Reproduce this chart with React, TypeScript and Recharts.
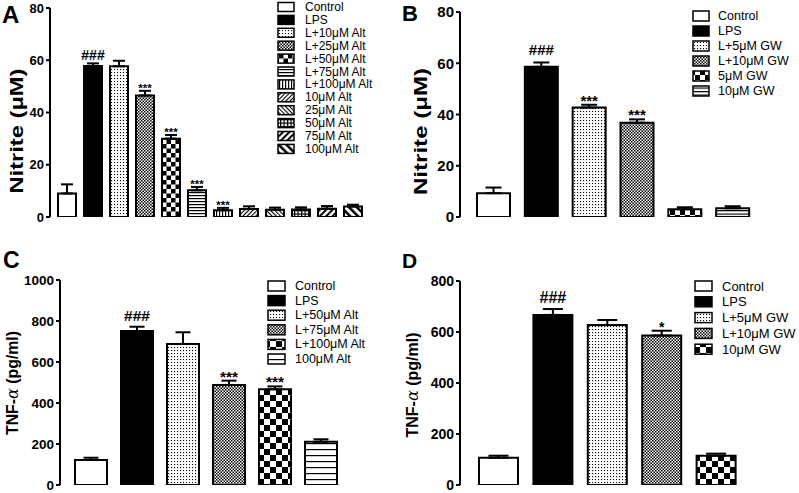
import React from 'react'
import { BarChart, Bar, XAxis, YAxis, Cell, ErrorBar, LabelList } from 'recharts'

const FONT = '"Liberation Sans", Arial, Helvetica, sans-serif'

// fill order shared by all four panels (GraphPad default patterns)
const patternOrder = ['white', 'black', 'dots', 'fine', 'checker', 'hlines', 'vlines', 'diagA', 'diagB', 'grid', 'diagC', 'diagD']

// A: nitrite, alantolactone
const altNitriteGroups = ['Control', 'LPS', 'L+10μM Alt', 'L+25μM Alt', 'L+50μM Alt', 'L+75μM Alt', 'L+100μM Alt', '10μM Alt', '25μM Alt', '50μM Alt', '75μM Alt', '100μM Alt']
const altNitriteMean = [9.0, 57.8, 57.7, 46.5, 30.0, 10.2, 2.6, 3.1, 2.8, 2.9, 3.2, 4.0]
const altNitriteSem = [3.5, 1.0, 2.1, 1.8, 1.4, 1.3, 0.9, 1.0, 0.8, 0.8, 1.0, 0.7]
const altNitriteSig = ['', '###', '', '***', '***', '***', '***', '', '', '', '', '']

// B: nitrite, GW
const gwNitriteGroups = ['Control', 'LPS', 'L+5μM GW', 'L+10μM GW', '5μM GW', '10μM GW']
const gwNitriteMean = [9.3, 58.6, 42.7, 36.8, 3.0, 3.4]
const gwNitriteSem = [2.2, 1.7, 1.1, 1.3, 0.8, 0.8]
const gwNitriteSig = ['', '###', '***', '***', '', '']

// C: TNF-a, alantolactone
const altTnfGroups = ['Control', 'LPS', 'L+50μM Alt', 'L+75μM Alt', 'L+100μM Alt', '100μM Alt']
const altTnfMean = [122, 751, 688, 488, 467, 211]
const altTnfSem = [11, 21, 57, 21, 14, 12]
const altTnfSig = ['', '###', '', '***', '***', '']

// D: TNF-a, GW
const gwTnfGroups = ['Control', 'LPS', 'L+5μM GW', 'L+10μM GW', '10μM GW']
const gwTnfMean = [107, 667, 627, 586, 115]
const gwTnfSem = [8, 23, 20, 19, 8]
const gwTnfSig = ['', '###', '', '*', '']

const nitriteTicks = [0, 20, 40, 60, 80]
const altTnfTicks = [0, 200, 400, 600, 800, 1000]
const gwTnfTicks = [0, 200, 400, 600, 800]

function Patterns({ id, checker, stripe }: { id: string; checker: number; stripe: number }) {
  const c2 = checker * 2
  return (
    <defs>
      <pattern id={`${id}-dots`} width={3} height={3} patternUnits="userSpaceOnUse">
        <rect width={3} height={3} fill="#fff" />
        <rect width={1.1} height={1.1} fill="#000" />
      </pattern>
      <pattern id={`${id}-fine`} width={3} height={3} patternUnits="userSpaceOnUse">
        <rect width={3} height={3} fill="#fff" />
        <rect width={1.5} height={1.5} fill="#000" />
        <rect x={1.5} y={1.5} width={1.5} height={1.5} fill="#000" />
      </pattern>
      <pattern id={`${id}-checker`} width={c2} height={c2} patternUnits="userSpaceOnUse">
        <rect width={c2} height={c2} fill="#fff" />
        <rect width={checker} height={checker} fill="#000" />
        <rect x={checker} y={checker} width={checker} height={checker} fill="#000" />
      </pattern>
      <pattern id={`${id}-hlines`} width={4} height={stripe} patternUnits="userSpaceOnUse">
        <rect width={4} height={stripe} fill="#fff" />
        <rect width={4} height={1.2} fill="#000" />
      </pattern>
      <pattern id={`${id}-vlines`} width={3} height={4} patternUnits="userSpaceOnUse">
        <rect width={3} height={4} fill="#fff" />
        <rect width={1.2} height={4} fill="#000" />
      </pattern>
      <pattern id={`${id}-grid`} width={3.5} height={3.5} patternUnits="userSpaceOnUse">
        <rect width={3.5} height={3.5} fill="#fff" />
        <rect width={3.5} height={1.2} fill="#000" />
        <rect width={1.2} height={3.5} fill="#000" />
      </pattern>
      <pattern id={`${id}-diagA`} width={3} height={3} patternUnits="userSpaceOnUse" patternTransform="rotate(45)">
        <rect width={3} height={3} fill="#fff" />
        <rect width={1.1} height={3} fill="#000" />
      </pattern>
      <pattern id={`${id}-diagB`} width={3} height={3} patternUnits="userSpaceOnUse" patternTransform="rotate(-45)">
        <rect width={3} height={3} fill="#fff" />
        <rect width={1.1} height={3} fill="#000" />
      </pattern>
      <pattern id={`${id}-diagC`} width={4.5} height={4} patternUnits="userSpaceOnUse" patternTransform="rotate(45)">
        <rect width={4.5} height={4} fill="#fff" />
        <rect width={2} height={4} fill="#000" />
      </pattern>
      <pattern id={`${id}-diagD`} width={5.5} height={4} patternUnits="userSpaceOnUse" patternTransform="rotate(-45)">
        <rect width={5.5} height={4} fill="#fff" />
        <rect width={2.5} height={4} fill="#000" />
      </pattern>
    </defs>
  )
}

const fillFor = (id: string, p: string) => (p === 'white' ? '#fff' : p === 'black' ? '#000' : `url(#${id}-${p})`)

type PanelProps = {
  id: string
  letter: string
  left: number
  top: number
  width: number
  height: number
  margin: { top: number; right: number; bottom: number; left: number }
  yWidth: number
  pad: { left: number; right: number }
  barSize: number
  capHalf: number
  groups: string[]
  mean: number[]
  sem: number[]
  sig: string[]
  ticks: number[]
  tickSize: number
  yTitle: React.ReactNode
  titleX: number
  titleShift: number
  titleSize: number
  titleLen: number
  letterX: number
  letterY: number
  letterSize: number
  legend: { x: number; y: number; row: number; w: number; h: number; textX: number; size: number }
  hashGap: number
  hashSize: number
  starSize: number
  checker: number
  stripe: number
}

function Panel(p: PanelProps) {
  const rows = p.groups.map((name, i) => ({ name, mean: p.mean[i], err: [0, p.sem[i]], sig: p.sig[i] }))

  // significance marks sit just above the error bar
  const sigLabel = (props: any) => {
    const { x, y, width, height, value, index } = props
    if (!value) return null
    const perUnit = height / p.mean[index]
    const top = y - p.sem[index] * perUnit
    const isHash = String(value).startsWith('#')
    return (
      <text
        x={x + width / 2}
        y={isHash ? top - p.hashGap : top + 1}
        textAnchor="middle"
        fontFamily={FONT}
        fontWeight="bold"
        fontSize={isHash ? p.hashSize : p.starSize}
        fill="#000"
      >
        {value}
      </text>
    )
  }

  const titleContent = (props: any) => {
    const vb = props.viewBox
    const cx = vb.x + p.titleX
    const cy = vb.y + vb.height / 2 + p.titleShift
    return (
      <text
        x={cx}
        y={cy}
        transform={`rotate(-90, ${cx}, ${cy})`}
        textAnchor="middle"
        dominantBaseline="central"
        fontFamily={FONT}
        fontWeight="bold"
        fontSize={p.titleSize}
        textLength={p.titleLen}
        lengthAdjust="spacingAndGlyphs"
        fill="#000"
      >
        {p.yTitle}
      </text>
    )
  }

  const max = p.ticks[p.ticks.length - 1]
  const lg = p.legend

  return (
    <div style={{ position: 'absolute', left: p.left, top: p.top, width: p.width, height: p.height }}>
      <svg width={0} height={0} style={{ position: 'absolute' }}>
        <Patterns id={p.id} checker={p.checker} stripe={p.stripe} />
      </svg>
      <BarChart width={p.width} height={p.height} data={rows} margin={p.margin} barCategoryGap={0}>
        <XAxis
          dataKey="name"
          tick={false}
          tickLine={false}
          height={0}
          padding={p.pad}
          axisLine={{ stroke: '#000', strokeWidth: 2 }}
        />
        <YAxis
          width={p.yWidth}
          domain={[0, max]}
          ticks={p.ticks}
          interval={0}
          allowDataOverflow
          tickSize={4}
          tickMargin={2}
          axisLine={{ stroke: '#000', strokeWidth: 2 }}
          tickLine={{ stroke: '#000', strokeWidth: 2 }}
          tick={{ fill: '#000', fontSize: p.tickSize, fontWeight: 'bold', fontFamily: FONT }}
          label={titleContent}
        />
        <Bar dataKey="mean" barSize={p.barSize} isAnimationActive={false} stroke="#000" strokeWidth={2}>
          {rows.map((r, i) => (
            <Cell key={r.name} fill={fillFor(p.id, patternOrder[i])} stroke="#000" strokeWidth={2} />
          ))}
          <ErrorBar dataKey="err" width={p.capHalf} stroke="#000" strokeWidth={2} direction="y" />
          <LabelList dataKey="sig" content={sigLabel} />
        </Bar>
      </BarChart>
      <svg
        width={p.width}
        height={p.height}
        style={{ position: 'absolute', left: 0, top: 0, pointerEvents: 'none' }}
      >
        <text x={p.letterX} y={p.letterY} fontFamily={FONT} fontWeight="bold" fontSize={p.letterSize} fill="#000">
          {p.letter}
        </text>
        {p.groups.map((g, i) => {
          const cy = lg.y + i * lg.row
          return (
            <g key={g}>
              <rect
                x={lg.x}
                y={cy - lg.h / 2}
                width={lg.w}
                height={lg.h}
                fill={fillFor(p.id, patternOrder[i])}
                stroke="#000"
                strokeWidth={1.5}
              />
              <text
                x={lg.textX}
                y={cy}
                dominantBaseline="central"
                fontFamily={FONT}
                fontSize={lg.size}
                fill="#000"
              >
                {g}
              </text>
            </g>
          )
        })}
      </svg>
    </div>
  )
}

const alpha = (
  <tspan fontFamily="DejaVu Serif" fontStyle="italic" fontWeight="normal">
    α
  </tspan>
)

export default function App() {
  return (
    <div style={{ position: 'absolute', left: 0, top: 0, width: 799, height: 493, background: '#fff', overflow: 'hidden' }}>
      <Panel
        id="pa"
        letter="A"
        left={0}
        top={0}
        width={400}
        height={245}
        margin={{ top: 8, right: 32, bottom: 28, left: 0 }}
        yWidth={50}
        pad={{ left: 4, right: 2 }}
        barSize={18}
        capHalf={6}
        groups={altNitriteGroups}
        mean={altNitriteMean}
        sem={altNitriteSem}
        sig={altNitriteSig}
        ticks={nitriteTicks}
        tickSize={13}
        yTitle="Nitrite (μM)"
        titleX={17}
        titleShift={18.5}
        titleSize={18}
        titleLen={125}
        letterX={2}
        letterY={23}
        letterSize={24}
        legend={{ x: 278, y: 7, row: 12.9, w: 16, h: 9, textX: 305, size: 12 }}
        hashGap={3}
        hashSize={14}
        starSize={11.5}
        checker={4.5}
        stripe={3}
      />
      <Panel
        id="pb"
        letter="B"
        left={400}
        top={0}
        width={399}
        height={245}
        margin={{ top: 12, right: 31, bottom: 28, left: 0 }}
        yWidth={60}
        pad={{ left: 10, right: 11 }}
        barSize={33}
        capHalf={8}
        groups={gwNitriteGroups}
        mean={gwNitriteMean}
        sem={gwNitriteSem}
        sig={gwNitriteSig}
        ticks={nitriteTicks}
        tickSize={15}
        yTitle="Nitrite (μM)"
        titleX={21}
        titleShift={17}
        titleSize={18}
        titleLen={127}
        letterX={2}
        letterY={21}
        letterSize={22}
        legend={{ x: 293, y: 16, row: 15, w: 16, h: 10, textX: 318, size: 12.5 }}
        hashGap={7}
        hashSize={15}
        starSize={15}
        checker={5}
        stripe={3.5}
      />
      <Panel
        id="pc"
        letter="C"
        left={0}
        top={245}
        width={400}
        height={248}
        margin={{ top: 35, right: 52, bottom: 8, left: 0 }}
        yWidth={60}
        pad={{ left: 8, right: 4 }}
        barSize={32}
        capHalf={7.5}
        groups={altTnfGroups}
        mean={altTnfMean}
        sem={altTnfSem}
        sig={altTnfSig}
        ticks={altTnfTicks}
        tickSize={13.5}
        yTitle={<>TNF-{alpha} (pg/ml)</>}
        titleX={12}
        titleShift={0.5}
        titleSize={16}
        titleLen={104}
        letterX={3}
        letterY={23}
        letterSize={23}
        legend={{ x: 268, y: 41, row: 14.6, w: 17, h: 10, textX: 295, size: 12.5 }}
        hashGap={6}
        hashSize={15.5}
        starSize={15.5}
        checker={6}
        stripe={6}
      />
      <Panel
        id="pd"
        letter="D"
        left={400}
        top={245}
        width={399}
        height={248}
        margin={{ top: 36, right: 51, bottom: 8, left: 0 }}
        yWidth={60}
        pad={{ left: 11, right: 5 }}
        barSize={39}
        capHalf={10}
        groups={gwTnfGroups}
        mean={gwTnfMean}
        sem={gwTnfSem}
        sig={gwTnfSig}
        ticks={gwTnfTicks}
        tickSize={14}
        yTitle={<>TNF-{alpha} (pg/ml)</>}
        titleX={12}
        titleShift={2}
        titleSize={16}
        titleLen={105}
        letterX={2}
        letterY={23}
        letterSize={21}
        legend={{ x: 295, y: 41, row: 15.8, w: 17, h: 10, textX: 322, size: 13 }}
        hashGap={6}
        hashSize={16}
        starSize={14}
        checker={6}
        stripe={6}
      />
    </div>
  )
}
